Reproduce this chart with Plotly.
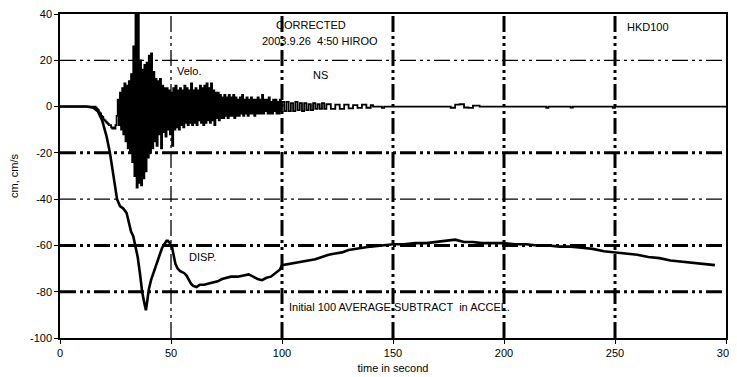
import numpy as np
import plotly.graph_objects as go

# ---------------- data ----------------
x_ticks = [0, 50, 100, 150, 200, 250, 300]
y_ticks = [40, 20, 0, -20, -40, -60, -80, -100]
y_tick_labels = ["40", "20", "0", "-20", "-40", "-60", "-80", "-100"]

# displacement (cm)
disp_time = [0, 12, 15, 17, 19, 21, 22.5, 24, 25.7, 27, 28.5, 30, 31, 32, 33, 34, 35, 36, 37, 38,
             38.7, 39.3, 40, 41, 42, 43, 44, 45, 46, 47, 48, 48.6, 49.5, 50.5, 51.5, 52, 53, 54, 55,
             56, 57, 58, 59, 60, 61.5, 63, 65, 67, 69, 71, 73, 75, 77, 80, 83, 85, 87, 89, 91, 93,
             95, 97, 99, 100, 103, 106, 109, 112, 115, 118, 121, 124, 127, 130, 133, 136, 140, 145,
             150, 155, 160, 165, 170, 175, 178, 182, 186, 190, 195, 200, 205, 210, 215, 220, 225,
             230, 235, 240, 245, 250, 255, 260, 265, 270, 275, 280, 285, 290, 295]
disp_vals = [0, 0, -0.5, -2, -6, -13, -20, -30, -40, -43, -44, -46, -50, -54, -56, -60, -65, -72, -80, -85,
             -88, -84, -79, -75, -72, -69, -66, -63, -61, -59.5, -58, -58, -59, -61, -65, -68, -70, -71, -71.5,
             -72, -73, -75, -76.5, -77.5, -78, -77, -77, -76.5, -76, -75.5, -74.5, -74, -73.5, -73.5, -73, -72.5, -73.5, -74.5, -75, -74,
             -73.5, -72, -70.5, -68.5, -68, -67.5, -67, -66.5, -66, -65, -64, -63.5, -63, -62, -61.5, -61, -60.5, -60,
             -59.5, -59.5, -59, -59, -58.5, -58, -57.5, -58.5, -58.5, -59, -59, -59, -59.5, -59.5, -60, -60, -60.5,
             -60.5, -61, -61.5, -62.5, -63, -63.5, -64, -65, -65.5, -66.5, -67, -67.5, -68, -68.5]

# velocity (cm/s): dense part sampled every 0.5 s from 15 s to 100 s
vel_dense_start = 15.0
vel_dense_step = 0.5
vel_dense_vals = [
    0, 0, -0.5, -1, -1.5, -2.5, -3, -4, -4.5, -5.5,            # 15.0 - 19.5
    -6, -6.5, -7, -7.5, -8, -8, -9, -9.5, -9, -9.5,            # 20.0 - 24.5
    -8, -4, 3, -8, 6, -10, 8, -12, 10, -15,                    # 25.0 - 29.5
    9, -18, 11, -20, 14, -24, 26, -30, 45, -35,                # 30.0 - 34.5
    45, -33, 20, -34, 16, -31, 18, -28, 19, -22,               # 35.0 - 39.5
    22, -20, 23, -18, 15, -15, 12, -17, 11, -12,               # 40.0 - 44.5
    12, -18, 9, -11, 8, -13, 8, -10, 7, -12,                   # 45.0 - 49.5
    6, -17, 8, -10, 9, -9, 7, -10, 8, -8,                      # 50.0 - 54.5
    7, -9, 9, -7, 8, -8, 7, -7, 10, -8,                        # 55.0 - 59.5
    7, -7, 8, -8, 7, -6, 9, -7, 8, -8,                         # 60.0 - 64.5
    9, -7, 10, -6, 8, -7, 10, -6, 7, -8,                       # 65.0 - 69.5
    6, -5, 6, -6, 5, -5, 4, -5, 5, -4,                         # 70.0 - 74.5
    4, -5, 5, -4, 4, -4, 5, -5, 4, -4,                         # 75.0 - 79.5
    3, -4, 4, -3, 5, -4, 3, -3, 4, -4,                         # 80.0 - 84.5
    3, -3, 4, -3, 3, -4, 3, -3, 4, -3,                         # 85.0 - 89.5
    3, -3, 5, -3, 3, -2, 3, -3, 4, -3,                         # 90.0 - 94.5
    2, -3, 3, -2, 3, -3, 2, -3, 3, -2,                         # 95.0 - 99.5
    2,                                                         # 100.0
]
# velocity: quiet start and sparse tail
vel_head_time = [0, 14.5]
vel_head_vals = [0, 0]
vel_late_time = [101, 102, 103, 104, 105, 106, 107, 108, 109, 110, 111, 112, 113, 114, 115, 116,
                 117, 118, 119, 120, 122, 124, 126, 128, 130, 132, 134, 136, 138, 140, 141, 145,
                 146, 148, 150, 176, 178, 180, 182, 184, 186, 189, 219, 220, 222, 230, 231, 233,
                 249, 250, 300]
vel_late_vals = [-2, 2, -2, 1.5, -2, 2, -1.5, 1.5, -2, 1.5, -1.5, 1, -1.5, 1.5, -1, 1,
                 -1, 1.5, -1, 1, -1, 0.8, -1, 0.8, -0.8, 0.6, -0.6, 0.8, -0.5, 0.6, 0, -0.6,
                 0, 0, 0, -0.5, 0.8, 1, -0.4, -0.6, 0.4, 0, -0.5, 0, 0, -0.4, 0, 0,
                 -0.5, 0, 0]

vel_time = (vel_head_time
            + [vel_dense_start + i * vel_dense_step for i in range(len(vel_dense_vals))]
            + vel_late_time)
vel_vals = vel_head_vals + vel_dense_vals + vel_late_vals

# ---------------- figure ----------------
FONT = "Liberation Sans, Arial, sans-serif"
fig = go.Figure()

fig.add_trace(go.Scatter(x=vel_time, y=vel_vals, mode="lines",
                         line=dict(color="black", width=1.8, shape="hv"), hoverinfo="skip"))
fig.add_trace(go.Scatter(x=disp_time, y=disp_vals, mode="lines",
                         line=dict(color="black", width=2.6), hoverinfo="skip"))

# dash-dot grid lines with individual weights (as in the scanned original)
dash = "16px,4px,3px,4px,3px,4px"
v_grid = {50: 1.3, 100: 3, 150: 3, 200: 3, 250: 3}
h_grid = {20: 1.3, -20: 3, -40: 1.3, -60: 3, -80: 3}
for xv, w in v_grid.items():
    fig.add_shape(type="line", xref="x", yref="y", x0=xv, x1=xv, y0=-100, y1=40,
                  line=dict(color="black", width=w, dash=dash), layer="below")
for yv, w in h_grid.items():
    fig.add_shape(type="line", xref="x", yref="y", x0=0, x1=300, y0=yv, y1=yv,
                  line=dict(color="black", width=w, dash=dash), layer="below")

ann_font = dict(family=FONT, size=11, color="black")
texts = [
    ("CORRECTED", 113, 35.3, "center"),
    ("2003.9.26  4:50 HIROO", 117, 28.4, "center"),
    ("NS", 117.5, 13.5, "center"),
    ("HKD100", 265, 34.5, "center"),
    ("Velo.", 52, 15.3, "left"),
    ("DISP.", 57, -65.0, "left"),
    ("Initial 100 AVERAGE SUBTRACT  in ACCEL.", 153, -86.5, "center"),
]
for t, x, y, xa in texts:
    fig.add_annotation(x=x, y=y, xref="x", yref="y", text=t, showarrow=False,
                       xanchor=xa, yanchor="middle", font=ann_font)

# the page body adds an 8 px offset, so the figure is sized to fit the 737x377 window
fig.update_layout(
    width=729, height=369,
    margin=dict(l=52, r=11, t=6, b=39, autoexpand=False),
    paper_bgcolor="white", plot_bgcolor="white",
    showlegend=False,
    font=dict(family=FONT, size=11, color="black"),
    xaxis=dict(range=[0, 300], tickvals=x_ticks, showgrid=False, zeroline=False,
               automargin=False, ticklabeloverflow="allow",
               showline=True, linecolor="black", linewidth=1.5, mirror=True,
               ticks="outside", ticklen=4, tickwidth=1.2, tickcolor="black",
               tickfont=dict(family=FONT, size=11),
               title=dict(text="time in second", font=dict(family=FONT, size=11), standoff=6)),
    yaxis=dict(range=[-100, 40], tickvals=y_ticks, ticktext=y_tick_labels,
               showgrid=False, zeroline=False, automargin=False, ticklabeloverflow="allow",
               showline=True, linecolor="black", linewidth=1.5, mirror=True,
               ticks="outside", ticklen=4, tickwidth=1.2, tickcolor="black",
               tickfont=dict(family=FONT, size=11),
               title=dict(text="cm, cm/s", font=dict(family=FONT, size=11), standoff=14)),
)

fig.write_html("out.html")
